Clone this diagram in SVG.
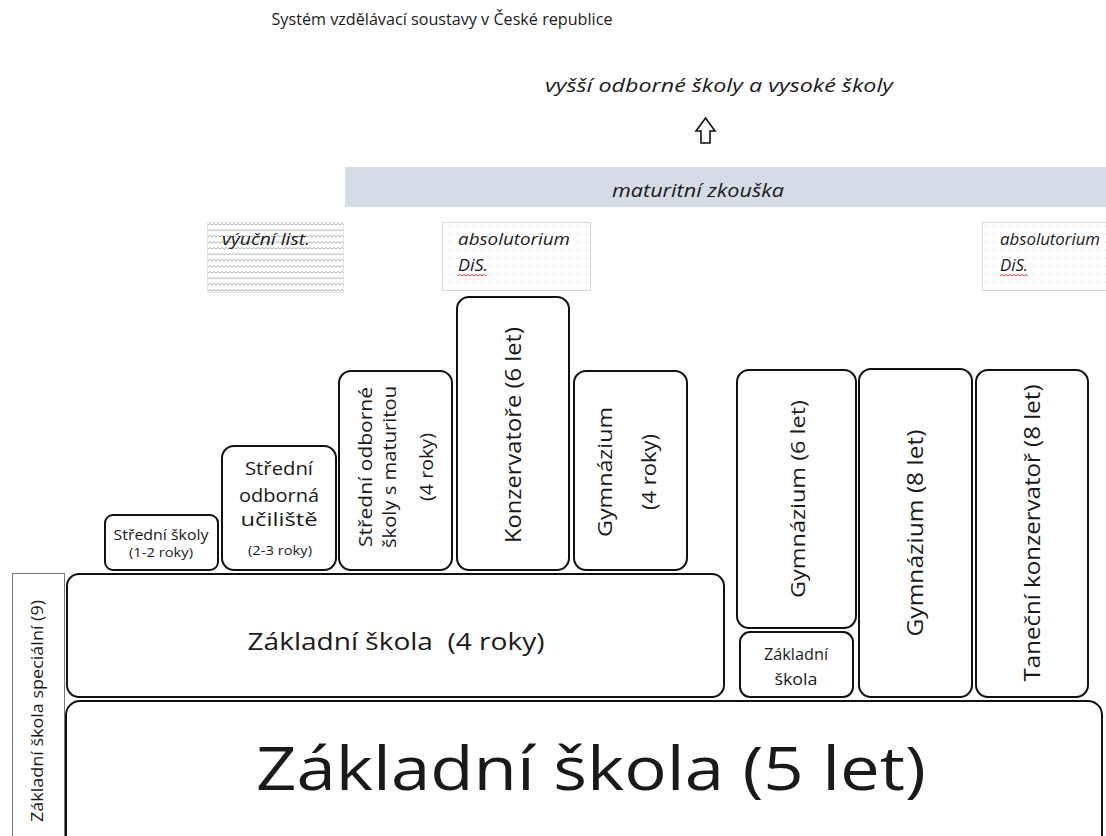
<svg xmlns="http://www.w3.org/2000/svg" width="1106" height="836" viewBox="0 0 1106 836">
<style>
.t{font-family:"Open Sans","Noto Sans","Liberation Sans",sans-serif;fill:#1a1a1a}
.i{font-style:italic}
.box{fill:#fff;stroke:#111;stroke-width:2}
.m{text-anchor:middle}
</style>
<defs>
<pattern id="wave" width="8" height="6" patternUnits="userSpaceOnUse">
<rect width="8" height="6" fill="#fff"/>
<path d="M0,3 L2,1.5 L4,3 L6,1.5 L8,3" fill="none" stroke="#b5b5b5" stroke-width="1"/>
</pattern>
<pattern id="dots" width="8" height="8" patternUnits="userSpaceOnUse">
<rect width="8" height="8" fill="#fff"/>
<circle cx="2" cy="2" r="0.7" fill="#cfcfcf"/>
</pattern>
</defs>
<rect width="1106" height="836" fill="#fff"/>

<text class="t m" x="442" y="25" font-size="15.5" textLength="341" lengthAdjust="spacingAndGlyphs">Systém vzdělávací soustavy v České republice</text>
<text class="t i" x="545" y="92" font-size="17.5" textLength="348" lengthAdjust="spacingAndGlyphs">vyšší odborné školy a vysoké školy</text>

<g id="arrow">
<path d="M705.5,118 L715,131 L710,131 L710,143 L701,143 L701,131 L696,131 Z" fill="#fff" stroke="#111" stroke-width="1.6" stroke-linejoin="miter"/>
</g>

<g id="maturita">
<rect x="345" y="167" width="761" height="40" fill="#d6dce5"/>
<text class="t i m" x="698" y="197" font-size="19" textLength="172" lengthAdjust="spacingAndGlyphs">maturitní zkouška</text>
</g>

<g id="vyucni">
<rect x="207.5" y="222.5" width="136" height="70" fill="url(#wave)" stroke="#d0d0d0" stroke-dasharray="1 1"/>
<text class="t i" x="222" y="245" font-size="16" textLength="88" lengthAdjust="spacingAndGlyphs">výuční list.</text>
</g>
<g id="absolutorium1">
<rect x="442.5" y="222.5" width="148" height="68" fill="url(#dots)" stroke="#d8d8d8"/>
<text class="t i" x="458" y="245" font-size="17" textLength="112" lengthAdjust="spacingAndGlyphs">absolutorium</text>
<text class="t i" x="458" y="271" font-size="17" textLength="30" lengthAdjust="spacingAndGlyphs">DiS.</text>
<path d="M458,276 l2,-1.5 l2,1.5 l2,-1.5 l2,1.5 l2,-1.5 l2,1.5 l2,-1.5 l2,1.5 l2,-1.5 l2,1.5 l2,-1.5 l2,1.5 l2,-1.5 l2,1.5" fill="none" stroke="#e03030" stroke-width="0.9"/>
</g>
<g id="absolutorium2">
<rect x="982.5" y="222.5" width="130" height="68" fill="url(#dots)" stroke="#d8d8d8"/>
<text class="t i" x="1000" y="245" font-size="16" textLength="100" lengthAdjust="spacingAndGlyphs">absolutorium</text>
<text class="t i" x="1000" y="271" font-size="16" textLength="28" lengthAdjust="spacingAndGlyphs">DiS.</text>
<path d="M1000,276 l2,-1.5 l2,1.5 l2,-1.5 l2,1.5 l2,-1.5 l2,1.5 l2,-1.5 l2,1.5 l2,-1.5 l2,1.5 l2,-1.5 l2,1.5 l2,-1.5 l2,1.5" fill="none" stroke="#e03030" stroke-width="0.9"/>
</g>

<g id="stredni-skoly">
<rect class="box" x="105" y="515" width="113" height="55" rx="8"/>
<text class="t m" x="161" y="540" font-size="15" textLength="95" lengthAdjust="spacingAndGlyphs">Střední školy</text>
<text class="t m" x="161" y="557" font-size="12" textLength="64" lengthAdjust="spacingAndGlyphs">(1-2 roky)</text>
</g>
<g id="sou">
<rect class="box" x="222" y="446" width="114" height="124" rx="12"/>
<text class="t m" x="279" y="475" font-size="19" textLength="68" lengthAdjust="spacingAndGlyphs">Střední</text>
<text class="t m" x="279" y="502" font-size="19" textLength="80" lengthAdjust="spacingAndGlyphs">odborná</text>
<text class="t m" x="279" y="526" font-size="19" textLength="77" lengthAdjust="spacingAndGlyphs">učiliště</text>
<text class="t m" x="280" y="555" font-size="12.5" textLength="64" lengthAdjust="spacingAndGlyphs">(2-3 roky)</text>
</g>
<g id="sos">
<rect class="box" x="339" y="371" width="113" height="199" rx="12"/>
<text class="t m" transform="translate(372,467) rotate(-90)" font-size="18" textLength="160" lengthAdjust="spacingAndGlyphs">Střední odborné</text>
<text class="t m" transform="translate(396,467) rotate(-90)" font-size="18" textLength="162" lengthAdjust="spacingAndGlyphs">školy s maturitou</text>
<text class="t m" transform="translate(433,467) rotate(-90)" font-size="18" textLength="68" lengthAdjust="spacingAndGlyphs">(4 roky)</text>
</g>
<g id="konzervator">
<rect class="box" x="457" y="297" width="112" height="273" rx="12"/>
<text class="t m" transform="translate(521,435) rotate(-90)" font-size="21" textLength="216" lengthAdjust="spacingAndGlyphs">Konzervatoře (6 let)</text>
</g>
<g id="gymnazium4">
<rect class="box" x="574" y="371" width="113" height="199" rx="12"/>
<text class="t m" transform="translate(612,472) rotate(-90)" font-size="20" textLength="130" lengthAdjust="spacingAndGlyphs">Gymnázium</text>
<text class="t m" transform="translate(656,472) rotate(-90)" font-size="20" textLength="76" lengthAdjust="spacingAndGlyphs">(4 roky)</text>
</g>
<g id="zs4">
<rect class="box" x="67" y="574" width="657" height="123" rx="12"/>
<text class="t m" x="396" y="650" font-size="23" textLength="297" lengthAdjust="spacingAndGlyphs" xml:space="preserve">Základní škola  (4 roky)</text>
</g>
<g id="gymnazium6">
<rect class="box" x="737" y="370" width="119" height="258" rx="12"/>
<text class="t m" transform="translate(805,499) rotate(-90)" font-size="20" textLength="198" lengthAdjust="spacingAndGlyphs">Gymnázium (6 let)</text>
</g>
<g id="zs-small">
<rect class="box" x="740" y="632" width="113" height="65" rx="10"/>
<text class="t m" x="796" y="660" font-size="16" textLength="64" lengthAdjust="spacingAndGlyphs">Základní</text>
<text class="t m" x="796" y="685" font-size="16" textLength="43" lengthAdjust="spacingAndGlyphs">škola</text>
</g>
<g id="gymnazium8">
<rect class="box" x="859" y="369" width="113" height="328" rx="12"/>
<text class="t m" transform="translate(923,533) rotate(-90)" font-size="21" textLength="207" lengthAdjust="spacingAndGlyphs">Gymnázium (8 let)</text>
</g>
<g id="tanecni">
<rect class="box" x="976" y="370" width="112" height="327" rx="12"/>
<text class="t m" transform="translate(1040,533) rotate(-90)" font-size="21" textLength="297" lengthAdjust="spacingAndGlyphs">Taneční konzervatoř (8 let)</text>
</g>
<g id="specialni">
<rect x="12.5" y="573.5" width="52" height="270" fill="#fff" stroke="#777" stroke-width="1"/>
<text class="t m" transform="translate(43,711) rotate(-90)" font-size="16" textLength="222" lengthAdjust="spacingAndGlyphs">Základní škola speciální (9)</text>
</g>
<g id="zs5">
<rect class="box" x="66" y="701" width="1036" height="150" rx="14"/>
<text class="t m" x="591" y="790" font-size="60" textLength="670" lengthAdjust="spacingAndGlyphs">Základní škola (5 let)</text>
</g>
<g id="connectors"></g>
</svg>
